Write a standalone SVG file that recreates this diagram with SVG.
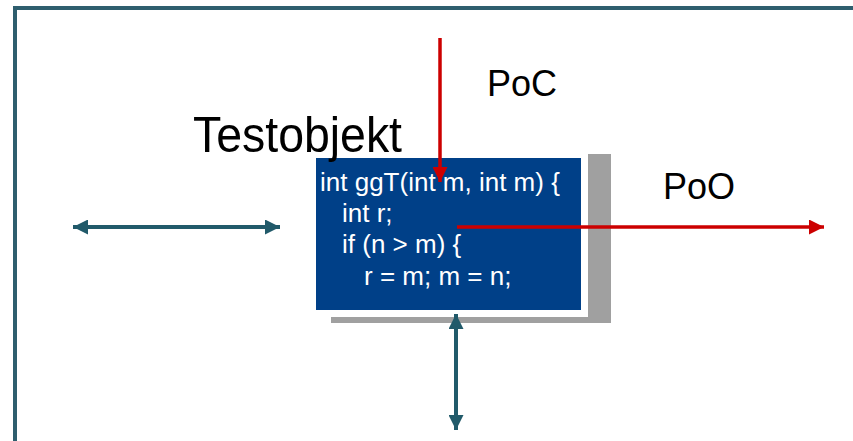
<svg xmlns="http://www.w3.org/2000/svg" width="853" height="441" viewBox="0 0 853 441">
<style>
.lbl{font-family:"Liberation Sans",Arial,sans-serif;fill:#000}
.code{font-family:"Liberation Sans",Arial,sans-serif;fill:#fff;font-size:26px}
.teal{stroke:#215A6A;stroke-width:4;fill:none}
.red{stroke:#CC0000;stroke-width:3.5;fill:none}
</style>
<defs>
<marker id="ta" viewBox="0 0 10 10" refX="10" refY="5" markerWidth="15" markerHeight="15" markerUnits="userSpaceOnUse" orient="auto-start-reverse"><path d="M0,0 L10,5 L0,10 Z" fill="#215A6A"/></marker>
<marker id="ra" viewBox="0 0 10 10" refX="10" refY="5" markerWidth="16" markerHeight="15" markerUnits="userSpaceOnUse" orient="auto"><path d="M0,0 L10,5 L0,10 Z" fill="#CC0000"/></marker>
</defs>
<rect x="0" y="0" width="853" height="441" fill="#fff"/>
<rect x="15" y="8" width="900" height="500" fill="none" stroke="#2E5E6E" stroke-width="4"/>
<g id="testobjekt">
<rect x="331" y="154" width="280" height="169" fill="#A0A0A0"/>
<rect x="312" y="150" width="276" height="167" fill="#fff"/>
<rect x="316" y="158" width="265" height="152" fill="#004088"/>
<text class="code" x="320" y="191">int ggT(int m, int m) {</text>
<text class="code" x="342" y="222">int r;</text>
<text class="code" x="342" y="253">if (n &gt; m) {</text>
<text class="code" x="364" y="285">r = m; m = n;</text>
</g>
<g id="label-testobjekt"><text class="lbl" x="193" y="152" font-size="50" textLength="209" lengthAdjust="spacingAndGlyphs">Testobjekt</text></g>
<g id="label-poc"><text class="lbl" x="487" y="96" font-size="36">PoC</text></g>
<g id="label-poo"><text class="lbl" x="663" y="199" font-size="36">PoO</text></g>
<g id="connectors">
<line class="red" x1="440" y1="38" x2="440" y2="182" marker-end="url(#ra)"/>
<line class="red" x1="457" y1="227" x2="824" y2="227" marker-end="url(#ra)"/>
<line class="teal" x1="73" y1="227" x2="280" y2="227" marker-start="url(#ta)" marker-end="url(#ta)"/>
<line class="teal" x1="456" y1="314" x2="456" y2="430" marker-start="url(#ta)" marker-end="url(#ta)"/>
</g>
</svg>
